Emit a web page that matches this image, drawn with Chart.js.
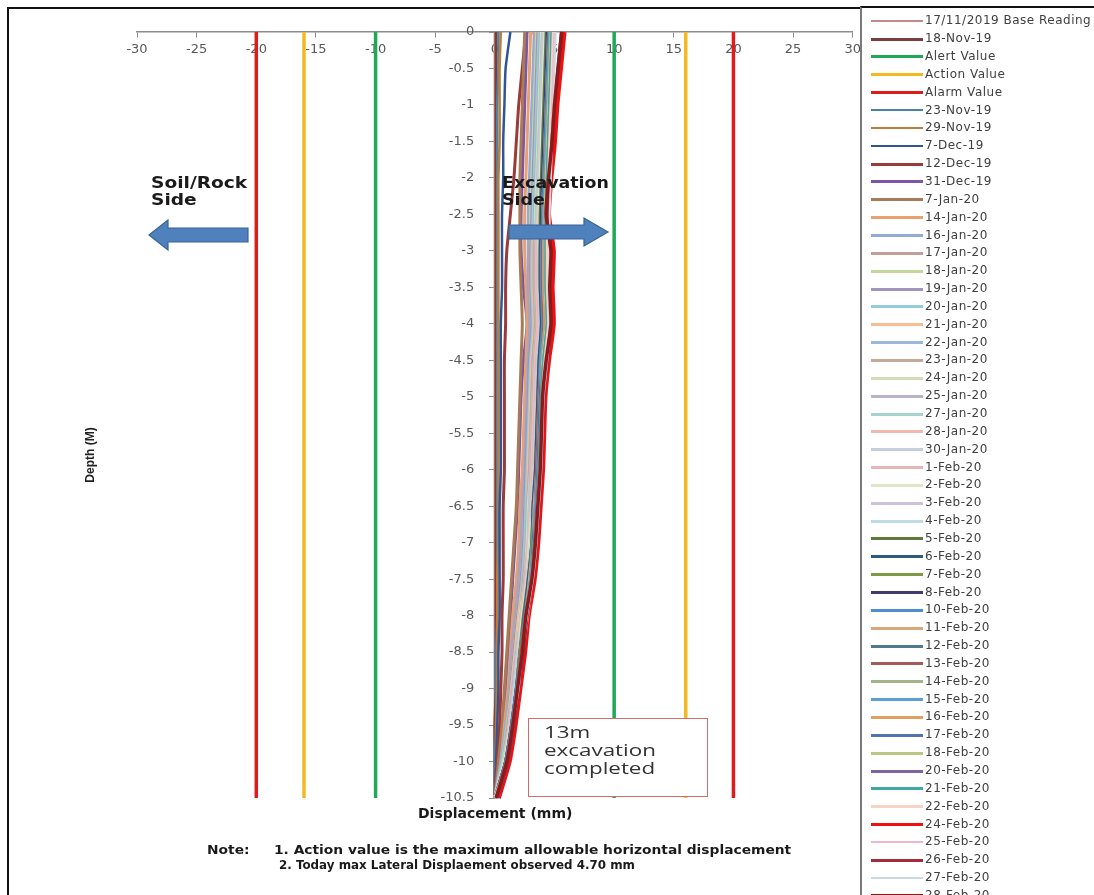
<!DOCTYPE html>
<html><head><meta charset="utf-8">
<script src="https://cdn.jsdelivr.net/npm/chart.js@4.4.0/dist/chart.umd.min.js"></script>
<style>
html,body{margin:0;padding:0;background:#fff;width:1094px;height:895px;overflow:hidden;position:relative;font-family:"DejaVu Sans",sans-serif;}
#frame{position:absolute;left:7px;top:7px;width:1100px;height:900px;border-left:2px solid #111;border-top:2px solid #111;}
#chartWrap{position:absolute;left:0;top:0;width:866px;height:895px;}
#legend{position:absolute;left:860px;top:6px;width:240px;height:895px;border-left:2px solid #7a7a7a;border-top:2px solid #111;overflow:hidden;background:#fff;}
.li{position:absolute;left:0;width:240px;height:18px;}
.sw{position:absolute;left:9px;top:8px;width:52px;}
.lt{position:absolute;left:63px;top:1px;font:12px "DejaVu Sans",sans-serif;color:#404040;white-space:nowrap;letter-spacing:0.5px;}
.txt{position:absolute;white-space:nowrap;transform-origin:0 0;}
.bold{font-family:"DejaVu Sans",sans-serif;font-weight:bold;color:#1a1a1a;}
#box{position:absolute;left:528px;top:718px;width:178px;height:77px;border:1.5px solid #d46a6a;background:#fff;}
</style></head>
<body>
<div id="frame"></div>
<div id="chartWrap"><canvas id="c" width="866" height="895"></canvas></div>

<div class="txt bold" style="left:151px;top:175px;font-size:15px;line-height:17px;transform:scaleX(1.24);">Soil/Rock<br>Side</div>
<div class="txt bold" style="left:502px;top:175px;font-size:15px;line-height:17px;transform:scaleX(1.16);">Excavation<br>Side</div>
<svg style="position:absolute;left:0;top:0" width="862" height="895">
  <polygon points="149,235 168,220 168,228 248,228 248,242 168,242 168,250" fill="#4f81bd" stroke="#3a6396" stroke-width="1.2"/>
  <polygon points="509,225 584,225 584,218 608,232 584,246 584,239 509,239" fill="#4f81bd" stroke="#3a6396" stroke-width="1.2"/>
</svg>
<div id="box"><div class="txt" style="left:15px;top:4px;font:16px 'Open Sans','Liberation Sans',sans-serif;color:#333;line-height:18px;transform:scaleX(1.4);">13m<br>excavation<br>completed</div></div>

<div class="txt bold" style="left:418px;top:805px;font-size:14px;">Displacement (mm)</div>
<div class="txt bold" style="left:207px;top:843px;font-size:12px;transform:scaleX(1.15);">Note:</div>
<div class="txt bold" style="left:274px;top:843px;font-size:12px;transform:scaleX(1.15);">1. Action value is the maximum allowable horizontal displacement</div>
<div class="txt bold" style="left:279px;top:858px;font-size:12px;transform:scaleX(0.99);">2. Today max Lateral Displaement observed 4.70 mm</div>
<div style="position:absolute;left:90px;top:455px;transform:translate(-50%,-50%) rotate(-90deg);white-space:nowrap;font:bold 12px 'Liberation Sans Narrow','Liberation Sans',sans-serif;color:#222;">Depth (M)</div>

<div id="legend"></div>

<script>
// ---- data ----
const depths = [0,-0.5,-1,-1.5,-2,-2.5,-3,-3.5,-4,-4.5,-5,-5.5,-6,-6.5,-7,-7.5,-8,-8.5,-9,-9.5,-10,-10.5];
const xTicks = [-30,-25,-20,-15,-10,-5,0,5,10,15,20,25,30];
const alertValue = 10;
const actionValue = 16;
const alarmValue = 20;

const base17Nov19 = [0,0,0,0,0,0,0,0,0,0,0,0,0,0,0,0,0,0,0,0,0,0];
const nov18 = [0.1,0.1,0.1,0.1,0.1,0.1,0.1,0.1,0.1,0.1,0.1,0.1,0.1,0.1,0.1,0.1,0.1,0.1,0.1,0.0,0.0,0];
const nov23 = [0.3,0.3,0.2,0.2,0.2,0.2,0.2,0.2,0.2,0.2,0.2,0.2,0.2,0.2,0.2,0.2,0.2,0.1,0.1,0.1,0.0,0];
const nov29 = [0.5,0.4,0.4,0.4,0.3,0.3,0.3,0.3,0.3,0.3,0.3,0.3,0.3,0.3,0.3,0.2,0.2,0.2,0.2,0.1,0.1,0];
const dec7  = [1.3,0.9,0.8,0.7,0.7,0.6,0.6,0.6,0.5,0.5,0.5,0.5,0.5,0.4,0.4,0.4,0.4,0.3,0.3,0.2,0.1,0];
const dec12 = [2.6,2.3,2.0,1.8,1.6,1.3,1.0,0.9,0.9,0.8,0.8,0.8,0.8,0.7,0.7,0.7,0.6,0.6,0.5,0.4,0.2,0];
const dec31 = [2.7,2.6,2.5,2.4,2.3,2.2,2.2,2.4,2.7,2.4,2.2,2.1,2.0,1.9,1.7,1.5,1.3,1.1,0.9,0.7,0.4,0];
const jan7  = [2.5,2.4,2.3,2.2,2.1,2.1,2.1,2.2,2.3,2.2,2.1,2.0,1.9,1.8,1.6,1.4,1.2,1.0,0.8,0.6,0.3,0];
const jan14 = [3.0,2.9,2.8,2.7,2.6,2.5,2.5,2.6,2.7,2.6,2.5,2.4,2.3,2.1,2.0,1.8,1.5,1.3,1.1,0.8,0.5,0];
const jan16 = [3.3,3.2,3.1,3.0,2.9,2.8,2.8,2.8,2.9,2.8,2.7,2.6,2.5,2.3,2.2,2.0,1.7,1.4,1.2,0.9,0.5,0];
const jan17 = [3.2,4.5,4.1,3.7,3.3,3.0,2.9,2.9,3.0,2.9,2.8,2.7,2.6,2.4,2.3,2.1,1.8,1.5,1.2,0.9,0.6,0];
const jan18 = [3.5,3.4,3.3,3.2,3.1,3.0,3.0,3.0,3.1,3.0,2.9,2.8,2.7,2.5,2.4,2.2,1.9,1.6,1.3,1.0,0.6,0];
const jan19 = [3.6,3.5,3.4,3.3,3.2,3.1,3.0,3.0,3.1,2.9,2.8,2.7,2.6,2.5,2.4,2.2,1.9,1.6,1.3,1.0,0.6,0];
const jan20 = [3.7,3.6,3.5,3.4,3.3,3.2,3.1,3.1,3.2,3.0,2.9,2.8,2.7,2.6,2.5,2.3,2.0,1.7,1.4,1.0,0.6,0];
const jan21 = [3.8,3.7,3.6,3.5,3.4,3.3,3.2,3.2,3.3,3.1,3.0,2.9,2.8,2.7,2.6,2.4,2.0,1.7,1.4,1.1,0.7,0];
const jan22 = [3.8,3.7,3.6,3.5,3.4,3.3,3.3,3.3,3.4,3.2,3.1,3.0,2.9,2.7,2.6,2.4,2.1,1.8,1.5,1.1,0.7,0];
const jan23 = [3.9,3.8,3.7,3.6,3.5,3.4,3.3,3.3,3.4,3.2,3.1,3.0,2.9,2.8,2.7,2.4,2.1,1.8,1.5,1.1,0.7,0];
const jan24 = [3.9,3.8,3.7,3.6,3.5,3.4,3.4,3.4,3.5,3.3,3.2,3.1,3.0,2.8,2.7,2.5,2.1,1.8,1.5,1.2,0.7,0];
const jan25 = [4.0,3.9,3.8,3.7,3.6,3.5,3.4,3.4,3.5,3.3,3.2,3.1,3.0,2.9,2.8,2.5,2.2,1.8,1.5,1.2,0.8,0];
const jan27 = [4.0,3.9,3.8,3.7,3.6,3.5,3.5,3.5,3.6,3.4,3.3,3.2,3.1,2.9,2.8,2.6,2.2,1.9,1.6,1.2,0.8,0];
const jan28 = [4.1,4.0,3.9,3.8,3.7,3.6,3.5,3.5,3.6,3.4,3.3,3.2,3.1,3.0,2.8,2.6,2.2,1.9,1.6,1.2,0.8,0];
const jan30 = [4.1,4.0,3.9,3.8,3.7,3.6,3.6,3.6,3.7,3.5,3.4,3.3,3.2,3.0,2.9,2.7,2.3,1.9,1.6,1.3,0.8,0];
const feb1  = [4.2,4.1,4.0,3.9,3.8,3.7,3.6,3.6,3.7,3.5,3.4,3.3,3.2,3.0,2.9,2.7,2.3,2.0,1.7,1.3,0.8,0];
const feb2  = [4.2,4.1,4.0,3.9,3.8,3.7,3.7,3.7,3.8,3.6,3.5,3.4,3.3,3.1,2.9,2.7,2.3,2.0,1.7,1.3,0.8,0];
const feb3  = [4.3,4.2,4.1,4.0,3.9,3.8,3.7,3.7,3.8,3.6,3.5,3.4,3.3,3.1,3.0,2.7,2.4,2.0,1.7,1.3,0.9,0];
const feb4  = [4.3,4.2,4.1,4.0,3.9,3.8,3.8,3.8,3.9,3.7,3.6,3.5,3.4,3.2,3.0,2.8,2.4,2.1,1.7,1.4,0.9,0];
const feb5  = [4.3,4.2,4.1,4.0,3.9,3.8,3.8,3.8,3.9,3.7,3.6,3.5,3.4,3.2,3.1,2.8,2.4,2.1,1.8,1.4,0.9,0];
const feb6  = [4.4,4.3,4.2,4.1,4.0,3.9,3.8,3.8,3.9,3.7,3.6,3.5,3.4,3.2,3.1,2.8,2.5,2.1,1.8,1.4,0.9,0];
const feb7  = [4.4,4.3,4.2,4.1,4.0,3.9,3.9,3.9,4.0,3.8,3.7,3.6,3.5,3.3,3.1,2.9,2.5,2.1,1.8,1.4,0.9,0];
const feb8  = [4.4,4.3,4.2,4.1,4.0,3.9,3.9,3.9,4.0,3.8,3.7,3.6,3.5,3.3,3.2,2.9,2.5,2.2,1.8,1.4,0.9,0];
const feb10 = [4.5,4.4,4.3,4.2,4.1,4.0,3.9,3.9,4.0,3.8,3.7,3.6,3.5,3.3,3.2,2.9,2.5,2.2,1.8,1.4,0.9,0];
const feb11 = [4.5,4.4,4.3,4.2,4.1,4.0,4.0,4.0,4.1,3.9,3.7,3.6,3.5,3.3,3.2,2.9,2.6,2.2,1.9,1.5,1.0,0];
const feb12 = [4.5,4.4,4.3,4.2,4.1,4.0,4.0,4.0,4.1,3.9,3.7,3.6,3.5,3.4,3.2,3.0,2.6,2.2,1.9,1.5,1.0,0];
const feb13 = [4.6,4.5,4.4,4.3,4.2,4.1,4.0,4.0,4.1,3.9,3.7,3.6,3.5,3.4,3.3,3.0,2.6,2.2,1.9,1.5,1.0,0];
const feb14 = [4.6,4.5,4.4,4.3,4.2,4.1,4.1,4.1,4.2,3.9,3.8,3.7,3.6,3.4,3.3,3.0,2.6,2.3,1.9,1.5,1.0,0];
const feb15 = [4.6,4.5,4.4,4.3,4.2,4.1,4.1,4.1,4.2,3.9,3.8,3.7,3.6,3.4,3.3,3.0,2.7,2.3,1.9,1.5,1.0,0];
const feb16 = [4.7,4.6,4.5,4.4,4.3,4.2,4.1,4.1,4.2,4.0,3.8,3.7,3.6,3.5,3.3,3.1,2.7,2.3,2.0,1.5,1.0,0];
const feb17 = [4.7,4.6,4.5,4.4,4.3,4.2,4.2,4.2,4.3,4.0,3.8,3.7,3.6,3.5,3.3,3.1,2.7,2.3,2.0,1.6,1.0,0];
const feb18 = [4.7,4.6,4.5,4.4,4.3,4.2,4.2,4.2,4.3,4.0,3.9,3.8,3.7,3.5,3.4,3.1,2.7,2.4,2.0,1.6,1.1,0];
const feb20 = [4.8,4.7,4.6,4.5,4.4,4.3,4.3,4.3,4.4,4.1,3.9,3.8,3.7,3.5,3.4,3.2,2.8,2.4,2.0,1.6,1.1,0];
const feb21 = [4.8,4.7,4.6,4.5,4.4,4.3,4.3,4.3,4.4,4.1,3.9,3.8,3.7,3.6,3.4,3.2,2.8,2.4,2.0,1.6,1.1,0];
const feb22 = [4.9,4.8,4.7,4.6,4.5,4.4,4.4,4.4,4.5,4.2,4.0,3.9,3.8,3.6,3.5,3.2,2.8,2.4,2.1,1.6,1.1,0];
const feb24 = [5.8,5.5,5.2,5.0,4.7,4.5,4.9,4.8,4.9,4.5,4.2,4.1,4.0,3.8,3.6,3.3,2.8,2.5,2.1,1.7,1.2,0.3];
const feb25 = [5.0,4.9,4.8,4.7,4.6,4.5,4.6,4.5,4.6,4.4,4.1,4.0,3.9,3.7,3.5,3.2,2.8,2.4,2.0,1.6,1.1,0];
const feb26 = [5.6,5.3,5.0,4.8,4.6,4.4,4.7,4.6,4.7,4.4,4.1,4.0,3.9,3.7,3.5,3.2,2.7,2.4,2.0,1.6,1.1,0.2];
const feb27 = [5.1,5.0,4.9,4.8,4.7,4.6,4.6,4.5,4.6,4.4,4.1,4.0,3.9,3.7,3.5,3.2,2.7,2.3,2.0,1.5,1.0,0];
const feb28 = [5.6,5.3,5.0,4.8,4.5,4.3,4.7,4.6,4.7,4.3,4.0,3.9,3.8,3.6,3.4,3.1,2.6,2.3,1.9,1.5,1.0,0.1];

const seriesLabels = ["17/11/2019 Base Reading","18-Nov-19","Alert Value","Action Value","Alarm Value","23-Nov-19","29-Nov-19","7-Dec-19","12-Dec-19","31-Dec-19","7-Jan-20","14-Jan-20","16-Jan-20","17-Jan-20","18-Jan-20","19-Jan-20","20-Jan-20","21-Jan-20","22-Jan-20","23-Jan-20","24-Jan-20","25-Jan-20","27-Jan-20","28-Jan-20","30-Jan-20","1-Feb-20","2-Feb-20","3-Feb-20","4-Feb-20","5-Feb-20","6-Feb-20","7-Feb-20","8-Feb-20","10-Feb-20","11-Feb-20","12-Feb-20","13-Feb-20","14-Feb-20","15-Feb-20","16-Feb-20","17-Feb-20","18-Feb-20","20-Feb-20","21-Feb-20","22-Feb-20","24-Feb-20","25-Feb-20","26-Feb-20","27-Feb-20","28-Feb-20"];
const seriesValues = [base17Nov19,nov18,"alert","action","alarm",nov23,nov29,dec7,dec12,dec31,jan7,jan14,jan16,jan17,jan18,jan19,jan20,jan21,jan22,jan23,jan24,jan25,jan27,jan28,jan30,feb1,feb2,feb3,feb4,feb5,feb6,feb7,feb8,feb10,feb11,feb12,feb13,feb14,feb15,feb16,feb17,feb18,feb20,feb21,feb22,feb24,feb25,feb26,feb27,feb28];
const seriesColors = ["#c58a86","#7b3d3d","#1fa855","#f4b820","#dd1c1c","#4a84a2","#bb7d3e","#2f5597","#9b3a3a","#7a55a8","#a87a55","#e9a070","#93a9d8","#c49d98","#c3d69b","#a195bd","#93cddd","#f9be8f","#9ab7dc","#c7a998","#d2ddb8","#bab2c9","#a6d3cf","#f4b9ae","#c5cfd9","#e4b6b6","#dfe6c8","#cdc2db","#bfdce5","#5f7a3a","#2c5a80","#7e9a44","#3f3a70","#4c8ecb","#d8a878","#4e7b8e","#a65a5a","#a4b488","#5aa0d8","#e0a060","#5072b3","#bac682","#8064a2","#42a8a2","#f6d3c6","#ee1111","#f2b6c4","#a8283c","#c9d8e1","#8c1a1a"];
const seriesWidths = [2.5,3,3.5,3.5,3.5,2.5,2.5,2.5,3,3,3,3,3,3,3,3,3,3,3,3,3,3,3,3,3,3,3,3,3,3,3,3,3,3,3,3,3,3,3,3,3,3,3,3,3,5,2,3.5,2,3.5];

const limits = {alert: alertValue, action: actionValue, alarm: alarmValue};
const N = seriesLabels.length;
const datasets = seriesLabels.map((lab, i) => {
  const v = seriesValues[i];
  let data;
  if (typeof v === "string") {
    const L = limits[v];
    data = [{x:-L,y:depths[0]},{x:-L,y:depths[depths.length-1]},{x:0,y:null},{x:L,y:depths[0]},{x:L,y:depths[depths.length-1]}];
  } else {
    data = depths.map((d, k) => ({x: v[k], y: d}));
  }
  return {label: lab, data, borderColor: seriesColors[i], backgroundColor: seriesColors[i],
    borderWidth: seriesWidths[i], pointRadius: 0, tension: 0.2, spanGaps: false, order: N - i, clip: 4};
});

const FS = "\u2007\u2007 "; // trailing gap so labels sit left of the axis line
new Chart(document.getElementById("c"), {
  type: "line",
  data: {datasets},
  options: {
    responsive: false, animation: false, devicePixelRatio: 1,
    layout: {padding: {left: 137, right: 9, top: 32, bottom: 97}},
    plugins: {legend: {display: false}, tooltip: {enabled: false}},
    scales: {
      x: {type: "linear", min: -30, max: 30, position: {y: 0},
        afterBuildTicks: s => { s.ticks = xTicks.map(v => ({value: v})); },
        ticks: {color: "#595959", font: {family: "DejaVu Sans", size: 13}, padding: 5, autoSkip: false, maxRotation: 0,
          callback: v => String(v)},
        grid: {drawOnChartArea: false, drawTicks: true, tickLength: 5, color: "#8c8c8c"},
        border: {display: true, color: "#8c8c8c", width: 1.5}},
      y: {type: "linear", min: -10.5, max: 0, position: {x: 0},
        ticks: {stepSize: 0.5, color: "#595959", font: {family: "DejaVu Sans", size: 13}, padding: 12, autoSkip: false,
          callback: v => String(Math.round(v * 10) / 10) + FS},
        grid: {drawOnChartArea: false, drawTicks: true, tickLength: 5, color: "#8c8c8c"},
        border: {display: true, color: "#8c8c8c", width: 1.5}}
    }
  }
});

// HTML legend built from the same arrays
const leg = document.getElementById("legend");
seriesLabels.forEach((lab, i) => {
  const row = document.createElement("div");
  row.className = "li";
  row.style.top = (19.3 + i * 17.85 - 6 - 9) + "px";
  const sw = document.createElement("div");
  sw.className = "sw";
  const w = Math.min(seriesWidths[i], 3.5);
  sw.style.borderTop = w + "px solid " + seriesColors[i];
  sw.style.top = (9 - w / 2) + "px";
  const t = document.createElement("div");
  t.className = "lt";
  t.textContent = lab;
  row.appendChild(sw); row.appendChild(t);
  leg.appendChild(row);
});
</script>
</body></html>
